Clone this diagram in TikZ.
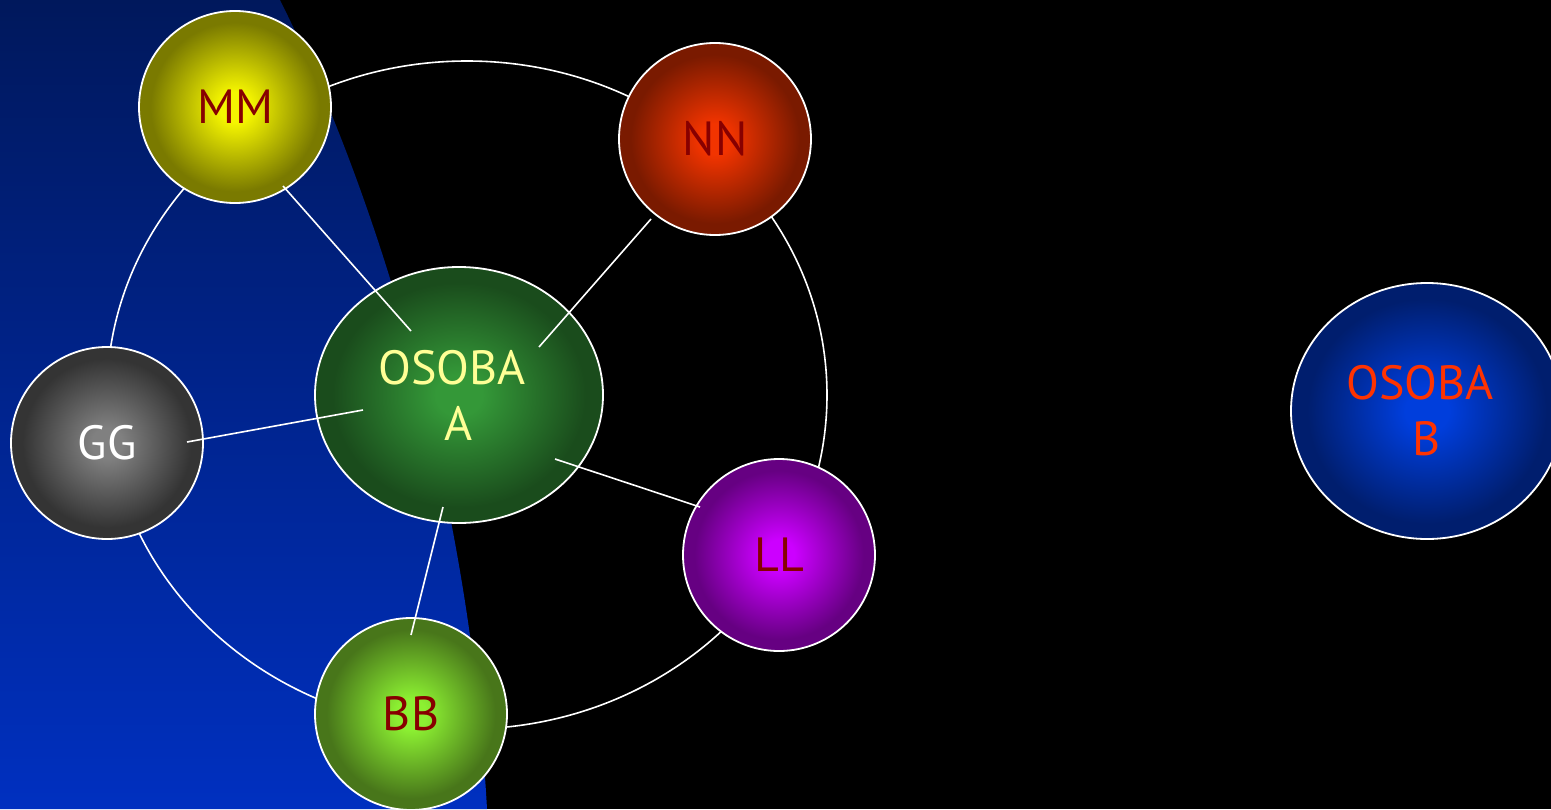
\documentclass[tikz,border=0pt]{standalone}
\usepackage{fontspec}
\setmainfont{PT Sans}
\usetikzlibrary{shapes.geometric,calc}
\colorlet{glowin}{white}
\colorlet{glowout}{black}
\pgfdeclareradialshading[glowin,glowout]{glow}{\pgfpoint{0bp}{0bp}}{color(0bp)=(glowin); color(4bp)=(glowin); color(22bp)=(glowout); color(50bp)=(glowout)}
\definecolor{seatop}{RGB}{0,24,92}
\definecolor{seamid}{RGB}{0,40,160}
\definecolor{seabot}{RGB}{0,48,192}
\definecolor{wine}{RGB}{135,0,0}
\definecolor{paleyellow}{RGB}{255,255,150}
\definecolor{flame}{RGB}{255,51,0}

\begin{document}
\begin{tikzpicture}[x=1pt,y=-1pt,
  ball/.style 2 args={circle,draw=white,line width=1.8pt,minimum size=192pt,shade,shading=glow,
    /utils/exec={\colorlet{glowin}{#1}\colorlet{glowout}{#2}},font=\fontsize{48}{56}\selectfont,align=center},
  spoke/.style={white,line width=1.6pt},
  ring/.style={white,line width=1.6pt}]
\useasboundingbox (0,0) rectangle (1551,809);
\fill[black] (0,0) rectangle (1551,809);
\shade[top color=seatop,middle color=seamid,bottom color=seabot] (0,0) -- (280,0) .. controls (380,200) and (470,500) .. (487,809) -- (0,809) -- cycle;
\draw[ring] (467,395) ellipse [x radius=360pt, y radius=334pt];
\node [ball={rgb,255:red,245;green,245;blue,0}{rgb,255:red,122;green,122;blue,0},text=wine] (MM) at (235,107) {MM};
\node [ball={rgb,255:red,242;green,52;blue,0}{rgb,255:red,122;green,26;blue,0},text=wine] (NN) at (715,139) {NN};
\node [ball={rgb,255:red,128;green,128;blue,128}{rgb,255:red,52;green,52;blue,52},text=white] (GG) at (107,443) {GG};
\node [ball={rgb,255:red,204;green,0;blue,255}{rgb,255:red,102;green,0;blue,130},text=wine] (LL) at (779,555) {LL};
\node [ball={rgb,255:red,140;green,240;blue,50}{rgb,255:red,72;green,118;blue,26},text=wine] (BB) at (411,714) {BB};
\node [ball={rgb,255:red,52;green,152;blue,56}{rgb,255:red,26;green,76;blue,28},ellipse,minimum width=288pt,minimum height=256pt,text=paleyellow] (A) at (459,395) {OSOBA\kern14pt\\A};
\node [ball={rgb,255:red,0;green,62;blue,220}{rgb,255:red,0;green,30;blue,110},ellipse,minimum width=272pt,minimum height=256pt,text=flame] (B) at (1427,411) {OSOBA\kern14pt\\B};
\draw[spoke] ($(A)+(-48,-64)$) -- ($(MM)+(48,79)$);
\draw[spoke] ($(A)+(80,-48)$) -- ($(NN)+(-64,80)$);
\draw[spoke] ($(A)+(-96,15)$) -- ($(GG)+(80,-1)$);
\draw[spoke] ($(A)+(96,64)$) -- ($(LL)+(-79,-48)$);
\draw[spoke] ($(A)+(-16,112)$) -- ($(BB)+(0,-79)$);
\end{tikzpicture}
\end{document}
